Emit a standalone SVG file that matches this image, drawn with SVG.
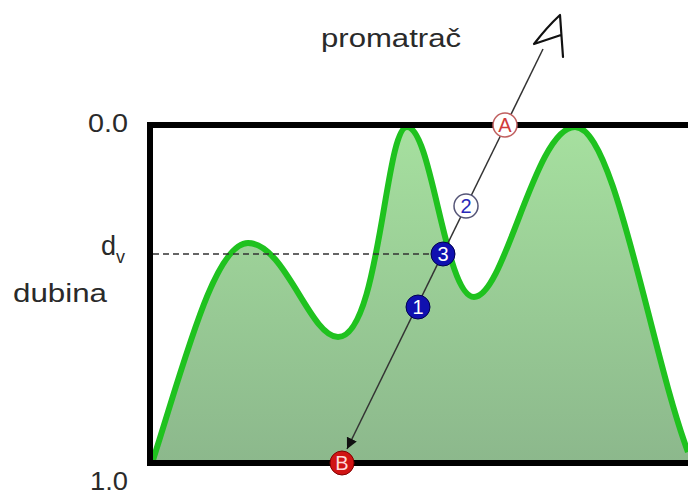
<svg xmlns="http://www.w3.org/2000/svg" width="688" height="496" viewBox="0 0 688 496">
<style>
.lbl{font-family:"Liberation Sans",Arial,sans-serif;fill:#2a2a2a;}
.num{font-family:"Liberation Sans",Arial,sans-serif;font-size:20px;text-anchor:middle;}
</style>
<defs>
<linearGradient id="g" x1="0" y1="125" x2="0" y2="463" gradientUnits="userSpaceOnUse">
<stop offset="0" stop-color="#a6e09f"/>
<stop offset="1" stop-color="#8cb88c"/>
</linearGradient>
<marker id="ah" viewBox="0 0 10 10" refX="10" refY="5" markerWidth="11" markerHeight="11" markerUnits="userSpaceOnUse" orient="auto">
<path d="M0,0 L10,5 L0,10 Z" fill="#111"/>
</marker>
</defs>
<rect width="688" height="496" fill="#fff"/>
<g id="terrain">
<path d="M153,460 C185,360 215,243 248,243 C285,243 310,337 338,337 C380,337 385,127 407,127 C432,127 445,297 474,297 C505,297 535,127 575,127 C615,127 650,350 688,452 L688,463 L153,463 Z" fill="url(#g)"/>
<path d="M153,460 C185,360 215,243 248,243 C285,243 310,337 338,337 C380,337 385,127 407,127 C432,127 445,297 474,297 C505,297 535,127 575,127 C615,127 650,350 688,452" fill="none" stroke="#1fc21f" stroke-width="6"/>
</g>
<g id="frame">
<path d="M688,125 H150 V463 H688" fill="none" stroke="#000" stroke-width="6"/>
</g>
<g id="connectors">
<line x1="153" y1="254" x2="432" y2="254" stroke="#333" stroke-width="1.5" stroke-dasharray="6,4"/>
<line x1="543" y1="49" x2="347" y2="449" stroke="#333" stroke-width="1.5" marker-end="url(#ah)"/>
</g>
<g id="observer">
<path d="M561,35 L534,44 Q547,27 560,15 L563,57" fill="none" stroke="#111" stroke-width="2.2" stroke-linecap="round" stroke-linejoin="round"/>
</g>
<g id="pA"><circle cx="505" cy="125" r="12" fill="#fff" stroke="#c06060" stroke-width="1.5"/><text class="num" x="505" y="132" fill="#d03a3a">A</text></g>
<g id="p2"><circle cx="466" cy="206" r="12" fill="#fff" stroke="#555577" stroke-width="1.5"/><text class="num" x="466" y="213" fill="#2828b8">2</text></g>
<g id="p3"><circle cx="443" cy="254" r="12" fill="#1010b0" stroke="#000050" stroke-width="1"/><text class="num" x="443" y="261" fill="#fff">3</text></g>
<g id="p1"><circle cx="418" cy="307" r="12" fill="#1010b0" stroke="#000050" stroke-width="1"/><text class="num" x="418" y="314" fill="#fff">1</text></g>
<g id="pB"><circle cx="342" cy="463" r="12" fill="#d01414" stroke="#800000" stroke-width="1"/><text class="num" x="342" y="470" fill="#ffd8d8">B</text></g>
<text class="lbl" x="321" y="47" font-size="25" textLength="140" lengthAdjust="spacingAndGlyphs">promatrač</text>
<text class="lbl" x="88" y="132" font-size="26" textLength="40" lengthAdjust="spacingAndGlyphs">0.0</text>
<text class="lbl" x="90" y="490" font-size="25" textLength="38" lengthAdjust="spacingAndGlyphs">1.0</text>
<text class="lbl" x="101" y="255" font-size="27">d<tspan font-size="18" dy="8">v</tspan></text>
<text class="lbl" x="13" y="302" font-size="26" textLength="94" lengthAdjust="spacingAndGlyphs">dubina</text>
</svg>
